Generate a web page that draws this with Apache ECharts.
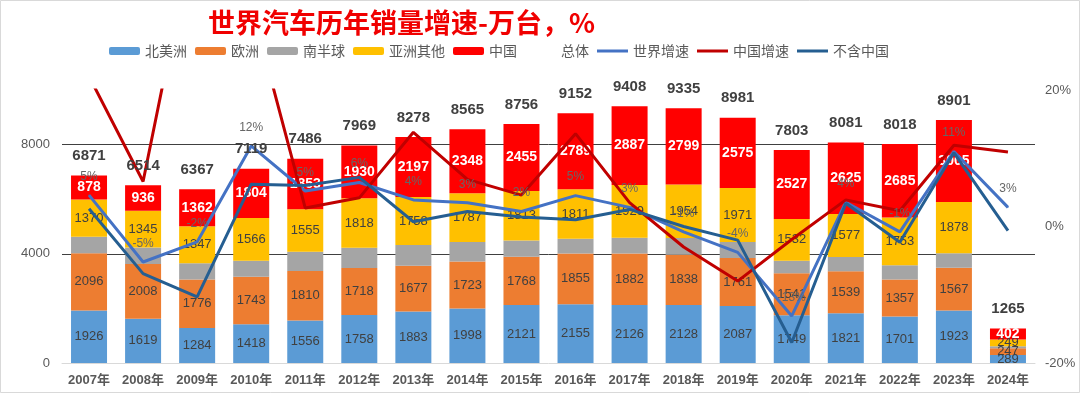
<!DOCTYPE html>
<html>
<head>
<meta charset="utf-8">
<script src="https://cdn.jsdelivr.net/npm/echarts@6/dist/echarts.min.js"></script>
<style>html,body{margin:0;padding:0;background:#fff}#c{width:1080px;height:393px}</style>
</head>
<body>
<div id="c"></div>
<script>
const years = ['2007年','2008年','2009年','2010年','2011年','2012年','2013年','2014年','2015年','2016年','2017年','2018年','2019年','2020年','2021年','2022年','2023年','2024年'];
const northAmerica = [1926,1619,1284,1418,1556,1758,1883,1998,2121,2155,2126,2128,2087,1749,1821,1701,1923,289];
const europe       = [2096,2008,1776,1743,1810,1718,1677,1723,1768,1855,1882,1838,1761,1541,1539,1357,1567,247];
const southHemi    = [601,606,598,588,712,745,763,709,599,542,584,616,587,454,519,522,528,78];
const asiaOther    = [1370,1345,1347,1566,1555,1818,1758,1787,1813,1811,1929,1954,1971,1532,1577,1753,1878,249];
const china        = [878,936,1362,1804,1853,1930,2197,2348,2455,2789,2887,2799,2575,2527,2625,2685,3005,402];
const total        = [6871,6514,6367,7119,7486,7969,8278,8565,8756,9152,9408,9335,8981,7803,8081,8018,8901,1265];
const worldGrowth  = [4.6,-5.2,-2.26,11.8,5.2,6.45,3.9,3.47,2.2,4.52,2.8,-0.78,-3.79,-13.1,3.56,-0.78,11.0,2.8];
const chinaGrowth  = [22,6.6,45.5,32.5,2.7,4.2,13.8,6.9,4.6,13.6,3.5,-3.0,-8.0,-1.9,3.9,2.3,11.9,10.9];
const exChinaGrowth= [2.6,-6.9,-10.3,6.2,6.0,7.2,0.7,2.2,1.4,1.0,2.5,0.0,-2.0,-17.0,3.4,-2.3,10.8,-0.6];
const leftTicks = [0,4000,8000];
const rightTicks = [-20,0,20];

const FONT = "'Liberation Sans', Arial, 'Noto Sans CJK SC', sans-serif";
const LINE_ICON = 'path://M0,0M31,8M0,2.5L31,2.5L31,5.5L0,5.5Z';
const chart = echarts.init(document.getElementById('c'), null, {renderer:'canvas'});

function barSeries(name, data, color, label) {
  return {
    name, type:'bar', stack:'all', data, barWidth:36,
    itemStyle:{color},
    label: label,
    emphasis:{disabled:true}
  };
}
const segLabel = {show:true, position:'inside', color:'#404040', fontSize:13, fontFamily:FONT};

chart.setOption({
  backgroundColor:'#fff',
  animation:false,
  title:{
    text:'世界汽车历年销量增速-万台，%',
    left:203, top:4,
    textStyle:{color:'#F00000', fontSize:27, fontWeight:'bold', fontFamily:"'Noto Sans CJK SC', sans-serif"}
  },
  legend:{
    left:104, top:39, itemWidth:31, itemHeight:8, itemGap:8,
    textStyle:{color:'#595959', fontSize:14, fontFamily:"'Noto Sans CJK SC', sans-serif"},
    data:['北美洲','欧洲','南半球','亚洲其他','中国','总体',
      {name:'世界增速', icon:LINE_ICON},
      {name:'中国增速', icon:LINE_ICON},
      {name:'不含中国', icon:LINE_ICON}]
  },
  graphic:[{type:'rect', shape:{x:0.5,y:0.5,width:1079,height:392}, style:{fill:'none', stroke:'#D9D9D9', lineWidth:1}, silent:true}],
  grid:{left:62, right:45, top:90, bottom:30},
  xAxis:{
    type:'category', data:years,
    axisTick:{show:false},
    axisLine:{lineStyle:{color:'#D9D9D9', width:1}},
    axisLabel:{interval:0, color:'#595959', fontSize:13, fontWeight:'bold', margin:11, fontFamily:FONT}
  },
  yAxis:[{
    type:'value', min:leftTicks[0], max:10000, interval:leftTicks[1]-leftTicks[0],
    axisLine:{show:false}, axisTick:{show:false},
    axisLabel:{color:'#595959', fontSize:13, margin:12, fontFamily:FONT, showMaxLabel:false, formatter:v=>String(v)},
    splitLine:{show:true, showMaxLine:false, showMinLine:false, lineStyle:{color:'#404040', width:1}}
  },{
    type:'value', min:rightTicks[0], max:rightTicks[2], interval:rightTicks[1]-rightTicks[0],
    axisLine:{show:false}, axisTick:{show:false},
    axisLabel:{color:'#595959', fontSize:13, margin:10, fontFamily:FONT, formatter:'{value}%'},
    splitLine:{show:false}
  }],
  series:[
    barSeries('北美洲', northAmerica, '#5B9BD5', segLabel),
    barSeries('欧洲', europe, '#ED7D31', segLabel),
    barSeries('南半球', southHemi, '#A5A5A5', {show:false}),
    barSeries('亚洲其他', asiaOther, '#FFC000', segLabel),
    barSeries('中国', china, '#FF0000', {show:true, position:'inside', color:'#fff', fontSize:14, fontWeight:'bold', fontFamily:FONT}),
    {
      name:'总体', type:'line', data:total, yAxisIndex:0,
      symbol:'circle', symbolSize:2,
      itemStyle:{color:'rgba(0,0,0,0)'},
      lineStyle:{width:0, opacity:0},
      label:{show:true, position:'top', distance:11, color:'#404040', fontSize:15, fontWeight:'bold', fontFamily:FONT},
      emphasis:{disabled:true}, z:5
    },
    {
      name:'世界增速', type:'line', data:worldGrowth, yAxisIndex:1,
      symbol:'circle', symbolSize:1, showSymbol:true,
      itemStyle:{color:'#4472C4'},
      lineStyle:{color:'#4472C4', width:3},
      label:{show:true, position:'top', distance:12, color:'#666666', fontSize:12, fontFamily:FONT,
        formatter:p=>Math.round(p.value)+'%'},
      emphasis:{disabled:true}, z:3
    },
    {
      name:'中国增速', type:'line', data:chinaGrowth, yAxisIndex:1,
      symbol:'none', itemStyle:{color:'#C00000'},
      lineStyle:{color:'#C00000', width:3},
      emphasis:{disabled:true}, z:3
    },
    {
      name:'不含中国', type:'line', data:exChinaGrowth, yAxisIndex:1,
      symbol:'none', itemStyle:{color:'#255E91'},
      lineStyle:{color:'#255E91', width:3},
      emphasis:{disabled:true}, z:3
    }
  ]
});
</script>
</body>
</html>
